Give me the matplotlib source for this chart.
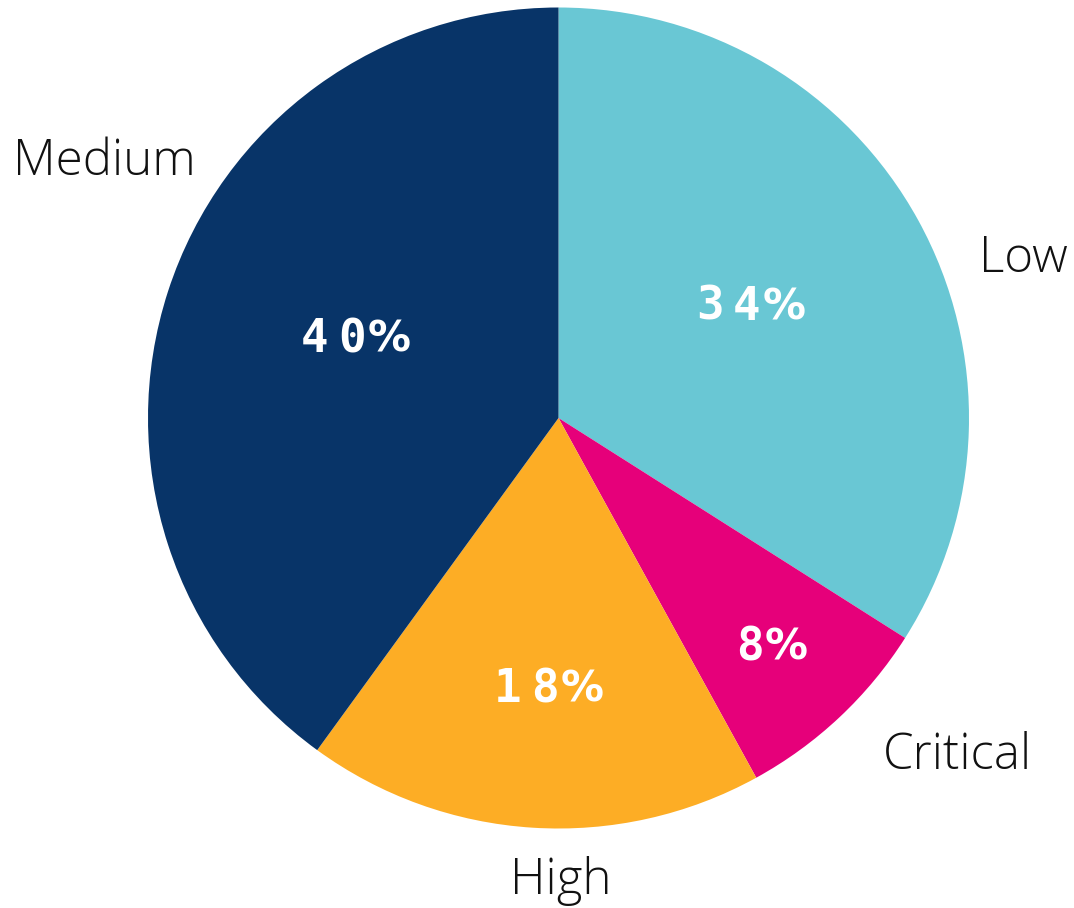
import matplotlib
matplotlib.use("Agg")
import matplotlib.pyplot as plt
import numpy as np

categories = ["Low", "Critical", "High", "Medium"]
values = [34, 8, 18, 40]
colors = ["#69C7D4", "#E6007A", "#FDAD25", "#083468"]

# label placement (pixel coords in the 1074x908 canvas, y downward)
cat_label_pos = [(979, 259, "left"), (883, 756, "left"), (561, 881, "center"), (196, 162, "right")]
pct_label_pos = [(747, 307), (768, 648), (545, 690), (352, 340)]
char_step = 37  # px between characters of the percent labels

W, H = 1074, 908
fig = plt.figure(figsize=(W / 100, H / 100), dpi=100)
ax = fig.add_axes([0, 0, 1, 1])

cx, cy, r = 558.5, H - 418, 410.5
ax.pie(values, colors=colors, startangle=90, counterclock=False,
       center=(cx, cy), radius=r, frame=True,
       wedgeprops=dict(linewidth=0))
ax.set_xlim(0, W)
ax.set_ylim(0, H)
ax.set_aspect("equal")
ax.axis("off")

for (x, y, ha), name in zip(cat_label_pos, categories):
    ax.text(x, H - y, name, ha=ha, va="center", fontsize=35.5,
            family="Open Sans", weight="light", color="#111111")

for (x, y), v in zip(pct_label_pos, values):
    s = f"{v}%"
    n = len(s)
    for i, ch in enumerate(s):
        xi = x + (i - (n - 1) / 2) * char_step
        if ch == "%":
            ax.text(xi, H - y, ch, ha="center", va="center", fontsize=31,
                    family="DejaVu Sans", weight="bold", color="white")
        else:
            ax.text(xi, H - y, ch, ha="center", va="center", fontsize=33,
                    family="DejaVu Sans Mono", weight="bold", color="white")

fig.savefig("out.png", dpi=100)
